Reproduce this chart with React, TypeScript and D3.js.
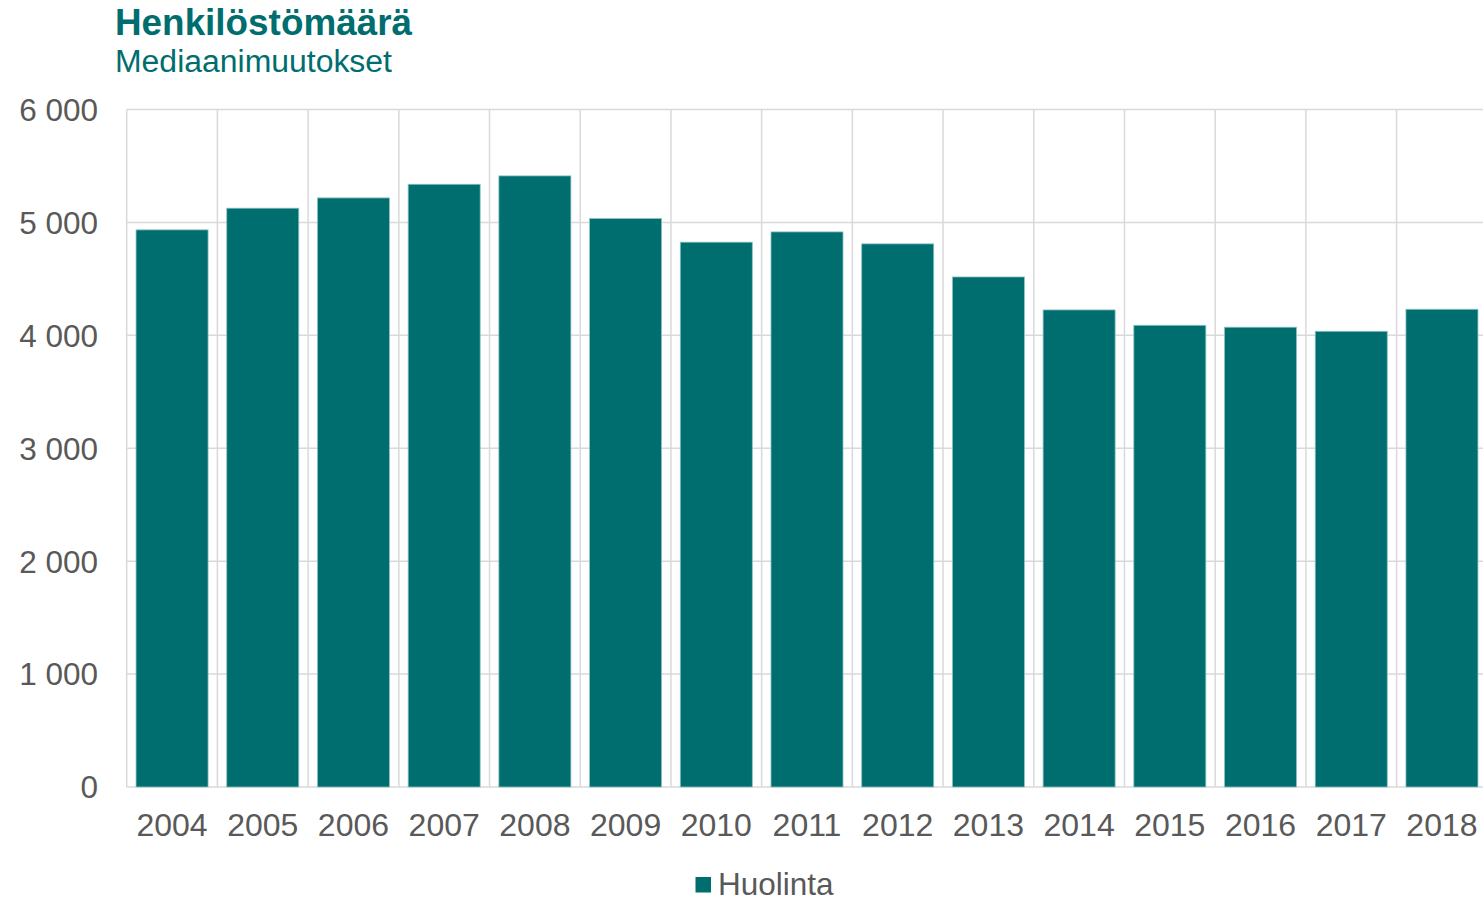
import React from "react";
import * as d3 from "d3";

const years = ["2004","2005","2006","2007","2008","2009","2010","2011","2012","2013","2014","2015","2016","2017","2018"];
const values = [4934,5126,5217,5338,5412,5034,4825,4916,4810,4517,4225,4089,4072,4036,4231];
const yTicks = [0,1000,2000,3000,4000,5000,6000];
const title = "Henkilöstömäärä";
const subtitle = "Mediaanimuutokset";
const seriesName = "Huolinta";

const W = 1483, H = 899;
const left = 126.7, right = 1487.3, top = 109.5, bottom = 787;
const teal = "#006d6f";
const gray = "#595959";
const font = "'Liberation Sans', Arial, sans-serif";

export default function App() {
  const x = d3.scaleBand().domain(years).range([left, right]).paddingInner(0.206).paddingOuter(0.103);
  const y = d3.scaleLinear().domain([0, 6000]).range([bottom, top]);
  const step = x.step();
  const fmt = (v: number) => d3.format(",")(v).replace(/,/g, " ");
  return (
    <svg width={W} height={H} style={{ position: "absolute", left: 0, top: 0, fontFamily: font }}>
      <rect width={W} height={H} fill="#fff" />
      <text x={115} y={35} fill={teal} fontSize={36} fontWeight="bold" textLength={297} lengthAdjust="spacingAndGlyphs">{title}</text>
      <text x={115} y={72} fill={teal} fontSize={31} textLength={277} lengthAdjust="spacingAndGlyphs">{subtitle}</text>
      {yTicks.map(t => (
        <g key={t}>
          <line x1={left} x2={right} y1={y(t)} y2={y(t)} stroke="#d9d9d9" strokeWidth={1.5} />
          <text x={98} y={y(t)} dy="0.36em" textAnchor="end" fill={gray} fontSize={31.5}>{fmt(t)}</text>
        </g>
      ))}
      {d3.range(years.length + 1).map(i => (
        <line key={i} x1={left + i * step} x2={left + i * step} y1={top} y2={bottom} stroke="#d9d9d9" strokeWidth={1.5} />
      ))}
      {years.map((yr, i) => (
        <rect key={yr} x={x(yr)!} y={y(values[i])} width={x.bandwidth()} height={bottom - y(values[i])}
          fill={teal} stroke="#8cc3c3" strokeWidth={0.8} />
      ))}
      {years.map(yr => (
        <text key={yr} x={x(yr)! + x.bandwidth() / 2} y={836} textAnchor="middle" fill={gray} fontSize={32}>{yr}</text>
      ))}
      <rect x={695.5} y={877} width={15.5} height={15.5} fill={teal} />
      <text x={718} y={895} fill={gray} fontSize={31.5}>{seriesName}</text>
    </svg>
  );
}
